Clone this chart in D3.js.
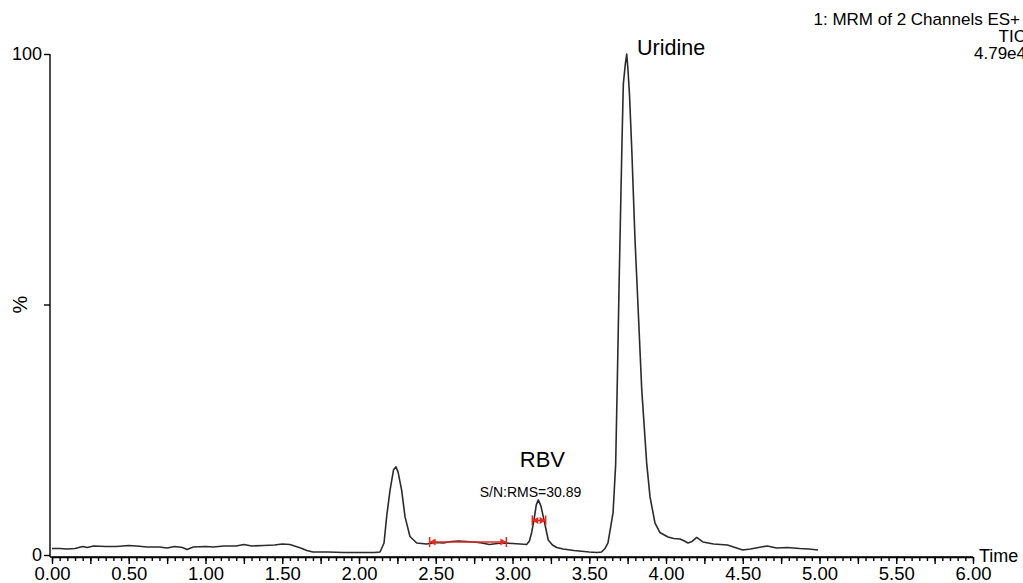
<!DOCTYPE html>
<html lang="en">
<head>
<meta charset="utf-8">
<title>MRM chromatogram</title>
<script src="https://d3js.org/d3.v7.min.js"></script>
<style>
    body { margin: 0; background: #fff; }
    svg text { font-family: "Liberation Sans", Arial, sans-serif; fill: #000; }
    .axis path, .axis line { stroke: #000; stroke-width: 1.4; }
</style>
</head>
<body>
<svg class="chart"></svg>
<script>
// retention time (min) and relative intensity (%)
var times = [0.00, 0.05, 0.10, 0.15, 0.20, 0.23, 0.27, 0.35, 0.42, 0.50, 0.55, 0.62, 0.70, 0.75, 0.80,
    0.85, 0.88, 0.92, 1.00, 1.05, 1.12, 1.20, 1.25, 1.30, 1.38, 1.45, 1.50, 1.55, 1.58, 1.62, 1.66,
    1.70, 1.80, 1.90, 2.00, 2.10, 2.137, 2.163, 2.18, 2.202, 2.225, 2.241, 2.255, 2.278, 2.30, 2.332,
    2.376, 2.44, 2.50, 2.55, 2.60, 2.65, 2.70, 2.75, 2.80, 2.85, 2.90, 2.95, 3.00, 3.05, 3.092, 3.11,
    3.125, 3.14, 3.155, 3.168, 3.185, 3.205, 3.233, 3.26, 3.288, 3.33, 3.40, 3.50, 3.55, 3.58, 3.603,
    3.622, 3.655, 3.672, 3.683, 3.695, 3.705, 3.713, 3.722, 3.735, 3.744, 3.752, 3.762, 3.777, 3.798,
    3.818, 3.842, 3.874, 3.896, 3.928, 3.96, 4.013, 4.05, 4.091, 4.12, 4.143, 4.17, 4.20, 4.24, 4.31,
    4.40, 4.45, 4.50, 4.55, 4.62, 4.66, 4.72, 4.79, 4.87, 4.93, 4.99];
var intensity = [1.3, 1.3, 1.2, 1.3, 1.7, 1.5, 1.8, 1.7, 1.7, 1.9, 1.8, 1.6, 1.6, 1.4, 1.7,
    1.5, 1.1, 1.6, 1.7, 1.6, 1.8, 1.8, 2.1, 1.8, 1.9, 2.0, 2.2, 2.1, 1.8, 1.4, 0.9,
    0.6, 0.6, 0.5, 0.5, 0.5, 0.6, 2.4, 7.6, 12.9, 17.0, 17.6, 16.5, 12.9, 7.6, 3.7,
    2.4, 2.2, 2.5, 2.4, 2.7, 2.8, 2.7, 2.6, 2.4, 2.1, 2.3, 2.4, 2.3, 2.2, 2.1, 2.8,
    4.5, 7.0, 10.0, 11.0, 9.8, 7.0, 3.0, 2.0, 1.5, 1.2, 0.9, 0.6, 0.5, 0.6, 1.3,
    2.4, 8.4, 18.0, 35.0, 55.0, 70.0, 82.0, 94.0, 98.0, 100, 97.0, 92.0, 81.0, 63.0,
    49.5, 33.0, 18.4, 11.6, 6.4, 4.5, 3.6, 3.3, 3.2, 2.8, 2.4, 2.7, 3.5, 2.6, 2.2,
    2.0, 1.5, 1.0, 1.2, 1.6, 1.8, 1.4, 1.5, 1.3, 1.2, 1.0];

// S/N integration markers: [start, end, level %]
var noiseRange = [2.46, 2.96, 2.6];
var signalRange = [3.129, 3.216, 6.9];

var xLabelTicks = [0.0, 0.5, 1.0, 1.5, 2.0, 2.5, 3.0, 3.5, 4.0, 4.5, 5.0, 5.5, 6.0];
var yLabelTicks = [0, 50, 100];
var yTickText = {0: "0", 50: "", 100: "100"};

var headerLines = ["1: MRM of 2 Channels ES+", "TIC", "4.79e4"];
var peakLabels = [
    {text: "Uridine", t: 3.811, v: 99.8, size: 21.5, anchor: "start"},
    {text: "RBV", t: 3.195, v: 17.6, size: 22, anchor: "middle"},
    {text: "S/N:RMS=30.89", t: 3.117, v: 11.6, size: 14, anchor: "middle"}
];

var W = 1023, H = 583;
var svg = d3.select(".chart").attr("width", W).attr("height", H);

var x = d3.scaleLinear().domain([0, 6]).range([52, 973]);
var y = d3.scaleLinear().domain([0, 100]).range([555, 54]);

// x axis: minor ticks every 0.05, longer every 0.25, labels every 0.5
var axisY = 557;
var minor = d3.range(0, 120.5, 1).map(function (i) { return i * 0.05; });
var major = d3.range(0, 24.5, 1).map(function (i) { return i * 0.25; });

svg.append("g").attr("class", "axis")
    .attr("transform", "translate(0," + axisY + ")")
    .call(d3.axisBottom(x).tickValues(minor).tickSize(4).tickSizeOuter(0).tickFormat(""));

var gx = svg.append("g").attr("class", "axis")
    .attr("transform", "translate(0," + axisY + ")")
    .call(d3.axisBottom(x).tickValues(major).tickSize(7).tickSizeOuter(0)
        .tickFormat(function (d) {
            return xLabelTicks.some(function (v) { return Math.abs(v - d) < 1e-6; }) ? d3.format(".2f")(d) : "";
        }));
gx.select(".domain").remove();
gx.selectAll("text").attr("y", 10).style("font-size", "18.5px")
    .style("font-family", "'Liberation Sans', Arial, sans-serif").attr("dy", "0.71em");
svg.append("line").attr("x1", 50).attr("x2", x(6)).attr("y1", axisY).attr("y2", axisY)
    .attr("stroke", "#000").attr("stroke-width", 1.4);

svg.append("text").attr("x", 979).attr("y", 562).style("font-size", "18px").text("Time");

// y axis
var gy = svg.append("g").attr("class", "axis")
    .attr("transform", "translate(50,0)")
    .call(d3.axisLeft(y).tickValues(yLabelTicks).tickSize(6).tickSizeOuter(0)
        .tickFormat(function (d) { return yTickText[d]; }));
gy.select(".domain").attr("d", "M0," + y(100) + "V" + axisY);
gy.selectAll("text").attr("x", -8).style("font-size", "18px")
    .style("font-family", "'Liberation Sans', Arial, sans-serif");

svg.append("text")
    .attr("transform", "translate(27," + y(50) + ") rotate(-90)")
    .attr("text-anchor", "middle")
    .style("font-size", "20px")
    .text("%");

// trace
var points = times.map(function (t, i) { return [t, intensity[i]]; });
var line = d3.line().x(function (d) { return x(d[0]); }).y(function (d) { return y(d[1]); });
svg.append("path").datum(points)
    .attr("d", line)
    .attr("fill", "none")
    .attr("stroke", "#2b2b2b")
    .attr("stroke-width", 1.6)
    .attr("stroke-linejoin", "round");

// red S/N markers
function drawMarker(r) {
    var g = svg.append("g").attr("stroke", "#e8281e").attr("fill", "#e8281e");
    var x0 = x(r[0]), x1 = x(r[1]), yy = y(r[2]);
    g.append("line").attr("x1", x0).attr("x2", x1).attr("y1", yy).attr("y2", yy).attr("stroke-width", 1.5);
    [x0, x1].forEach(function (xx, i) {
        g.append("line").attr("x1", xx).attr("x2", xx).attr("y1", yy - 5).attr("y2", yy + 5).attr("stroke-width", 1.5);
        var dir = i === 0 ? 1 : -1;
        g.append("path").attr("stroke", "none")
            .attr("d", "M" + xx + "," + yy + "L" + (xx + dir * 6) + "," + (yy - 3.5) + "L" + (xx + dir * 6) + "," + (yy + 3.5) + "Z");
    });
}
drawMarker(noiseRange);
drawMarker(signalRange);

// peak annotations
peakLabels.forEach(function (p) {
    svg.append("text")
        .attr("x", x(p.t)).attr("y", y(p.v))
        .attr("text-anchor", p.anchor)
        .style("font-size", p.size + "px")
        .text(p.text);
});

// header in the top right corner
var headerX = [1020, 1026, 1026];
var headerY = [25, 42, 59];
headerLines.forEach(function (s, i) {
    svg.append("text")
        .attr("x", headerX[i]).attr("y", headerY[i])
        .attr("text-anchor", "end")
        .style("font-size", "17px")
        .text(s);
});
</script>
</body>
</html>
